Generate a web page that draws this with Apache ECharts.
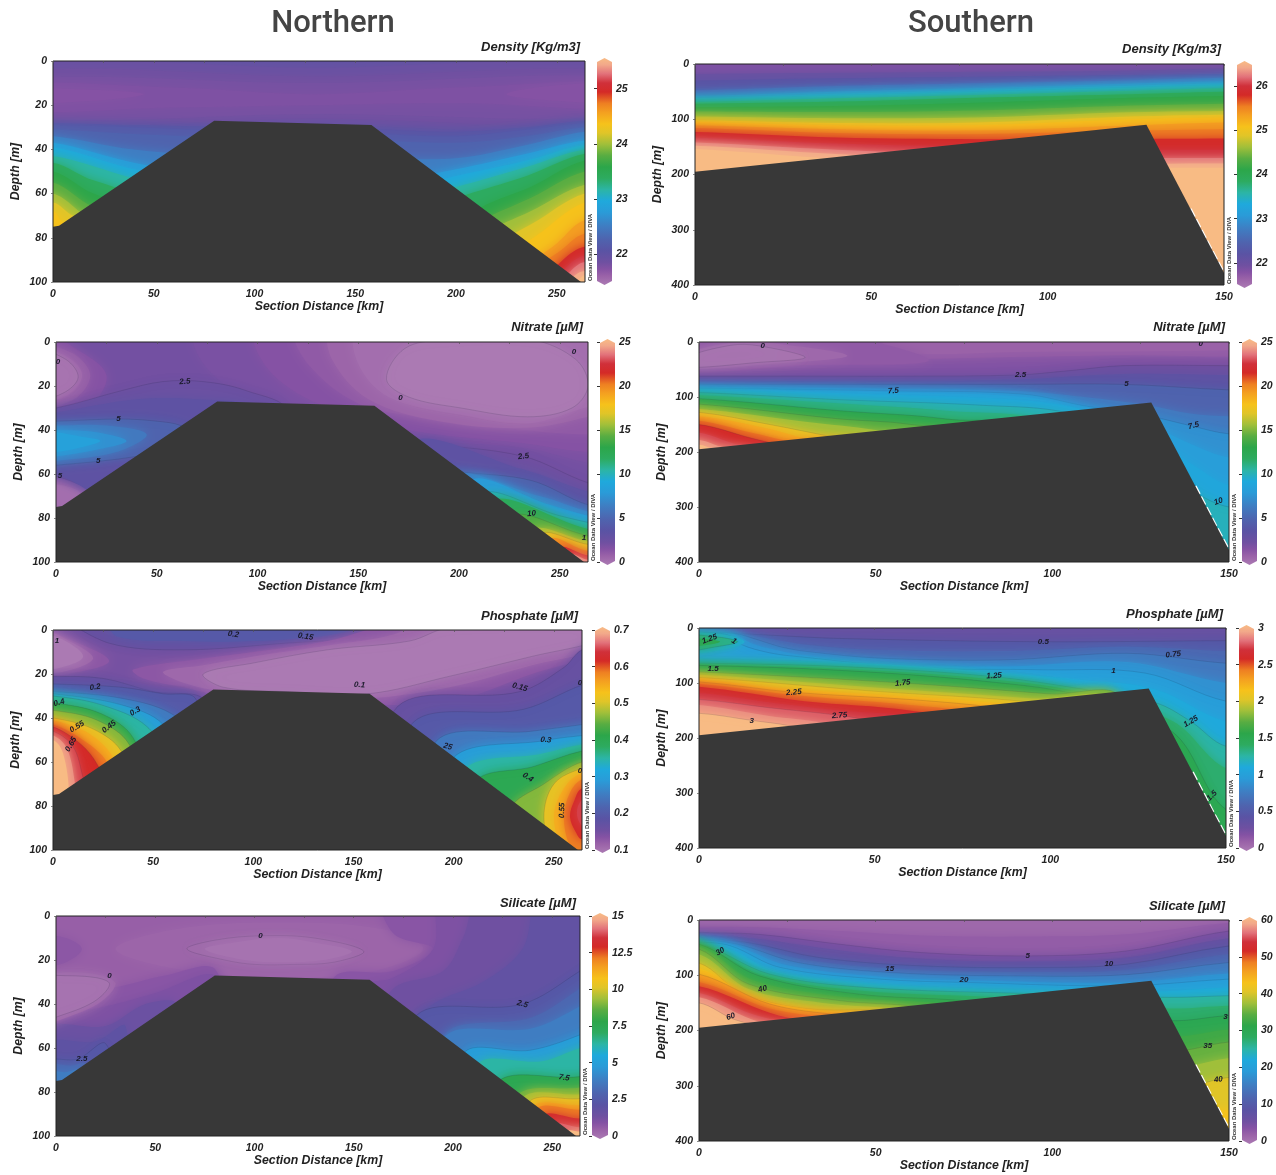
<!DOCTYPE html>
<html><head><meta charset="utf-8">
<style>html,body{margin:0;padding:0;background:#fff}#c{width:1276px;height:1175px}</style>
<script src="https://cdn.jsdelivr.net/npm/echarts@6/dist/echarts.min.js"></script>
</head><body><div id="c"></div>
<script>
// colour scale, bottom to top of the colour bar
const scaleStops = [[0,'#ab7ab3'],[.04,'#9a62a8'],[.07,'#8552a4'],[.1,'#6f50a1'],[.15,'#5a53a4'],[.2,'#4f63ae'],[.26,'#3f7dc2'],[.32,'#2a9bd8'],[.37,'#1fa9dc'],[.42,'#2cb5a5'],[.47,'#2dab60'],[.52,'#2ca64a'],[.57,'#58ad42'],[.62,'#a0bf3a'],[.67,'#e0c528'],[.71,'#f6c21b'],[.76,'#f4a020'],[.8,'#ee7f22'],[.85,'#d42a27'],[.89,'#d0303a'],[.93,'#e2717a'],[.97,'#f2a88a'],[1,'#f8bb84']];

// seabed outlines [km, m]
const seabedNorth = [[0,75],[3,74.5],[80,27],[158,29],[262,100],[0,100]];
const seabedSouth = [[0,195],[128,110],[150,378],[150,400],[0,400]];
const gapSouth = [[140.5,262],[146,330],[150,378]];

// isobands read from the sections: [level on colour scale, shape (1 = everything below this line, 0 = closed patch), [km, m, km, m ...], outline]
const densityN = [
 [.13,0,[-30,-20,300,-20,300,130,-30,130]],
 [.115,0,[-30,3,130,3,300,3,300,29,130,29,-30,29]],
 [.10,0,[-30,6,130,7,300,6,300,27,130,26,-30,27]],
 [.09,0,[-30,9,130,10,300,8,300,24,130,24,-30,25]],
 [.08,0,[-30,11,60,12,130,15,200,12,300,10,300,21,200,19,130,20,60,21,-30,22]],
 [.07,0,[-30,13,20,13,45,15,20,18,-30,19]],
 [.07,0,[225,15,250,11,300,10,300,19,250,18]],
 [.15,1,[0,28,40,29,100,30,160,31,200,32,235,30,264,27]],
 [.17,1,[0,29,40,30,100,32,160,33,200,34,235,31,264,28]],
 [.2,1,[0,31,40,33,100,35,160,36,200,37,235,34,264,30]],
 [.26,1,[0,34,40,40,100,44,160,44,200,44,235,38,264,32]],
 [.32,1,[0,37,40,46,100,55,160,55,200,49,235,42,264,36]],
 [.37,1,[0,39,40,49,100,60,160,60,200,52,235,45,264,38]],
 [.42,1,[0,43,40,53,100,65,160,65,200,57,235,48,264,40]],
 [.47,1,[0,46,20,54,100,75,160,75,200,62,235,52,264,42]],
 [.52,1,[0,50,20,60,100,85,180,85,213,66,237,57,264,45]],
 [.57,1,[0,55,20,66,100,90,180,90,213,72,237,62,264,50]],
 [.62,1,[0,60,20,72,100,95,180,95,213,78,237,68,264,56]],
 [.67,1,[0,64,10,70,100,100,180,100,237,74,264,60]],
 [.71,1,[0,68,5,73,100,105,180,105,225,88,240,79,264,64]],
 [.76,1,[0,85,100,110,200,110,248,84,264,72]],
 [.8,1,[0,90,100,115,200,115,250,87,264,78]],
 [.85,1,[0,95,100,120,220,120,253,90,264,84]],
 [.89,1,[0,100,100,125,220,125,255,93,264,88]],
 [.93,1,[0,105,100,130,220,130,257,95,264,91]],
 [.97,1,[0,110,100,135,220,135,259,97,264,95]],
 [1,1,[0,115,100,140,220,140,261,99,264,97]]
];
const densityS = [
 [.08,0,[-20,-50,170,-50,170,500,-20,500]],
 [.11,1,[0,18,40,16,80,14,120,12,150,8]],
 [.15,1,[0,30,40,26,80,23,120,20,150,18]],
 [.21,1,[0,48,40,40,80,35,120,30,150,25]],
 [.27,1,[0,58,40,50,80,44,120,36,150,31]],
 [.33,1,[0,62,40,54,80,47,120,40,150,35]],
 [.37,1,[0,65,40,57,80,50,120,43,150,38]],
 [.42,1,[0,69,40,62,80,56,120,49,150,44]],
 [.47,1,[0,72,40,68,80,61,120,55,150,50]],
 [.52,1,[0,78,40,76,80,70,120,62,150,58]],
 [.57,1,[0,86,40,87,80,84,120,76,150,72]],
 [.62,1,[0,95,40,98,80,97,120,88,150,85]],
 [.67,1,[0,102,40,107,80,106,120,96,150,92]],
 [.71,1,[0,105,40,111,80,111,120,101,150,97]],
 [.76,1,[0,111,40,118,80,120,120,112,150,106]],
 [.8,1,[0,116,40,125,80,127,120,121,150,118]],
 [.85,1,[0,123,40,133,80,136,120,136,150,135]],
 [.89,1,[0,133,40,144,80,150,120,155,150,155]],
 [.93,1,[0,142,40,155,80,165,120,170,150,170]],
 [.97,1,[0,148,40,163,80,175,120,180,150,180]],
 [1,1,[0,154,40,172,80,185,120,188,150,188]]
];
const nitrateN = [
 [.095,0,[-30,-20,300,-20,300,130,-30,130]],
 [.085,0,[70,-5,75,12,105,30,170,44,232,48,264,55,300,60,300,-5]],
 [.07,0,[100,-5,105,12,130,28,175,40,232,46,264,50,300,50,300,-5]],
 [.055,0,[120,-5,125,10,150,28,180,34,232,40,264,42,300,40,300,-5]],
 [.035,0,[137,-5,137,8,155,26,190,36,234,39,264,34,300,25,300,-5]],
 [.02,0,[150,-5,150,10,165,25,200,33,234,37,262,30,300,20,300,-5]],
 [0,0,[173,3,193,-1,236,-1,258,8,264,20,256,30,234,34,201,30,175,25,164,17],1],
 [.07,0,[-8,-5,8,2,25,15,15,30,-8,30]],
 [.05,0,[-8,3,8,5,17,15,9,26,-8,28]],
 [.03,0,[-8,4,6,7,13,15,6,24,-8,26]],
 [.01,0,[-8,5,5,8,11,16,4,23,-8,25],1],
 [.07,0,[-8,60,15,62,30,70,0,85,-8,85]],
 [.04,0,[-8,63,12,65,20,72,0,85,-8,85]],
 [.02,0,[-8,66,10,67,15,75,0,85,-8,85]],
 [.11,0,[-10,30,0,30,33,22,53,18,73,18,94,22,115,32,100,70,30,70,0,61,-10,61],1],
 [.14,0,[-10,33,0,32,40,26,70,26,100,30,110,45,40,75,0,60,-10,60]],
 [.2,0,[-10,36,0,36,32,35,50,36,62,38,75,45,40,52,0,56,-10,56],1],
 [.25,0,[-10,38,0,38,25,38,45,42,30,50,0,54,-10,54]],
 [.3,0,[-10,40,0,40,20,41,35,45,20,49,0,52,-10,52]],
 [.34,0,[-10,41,0,41,12,43,22,45,12,48,0,50,-10,50]],
 [.1,0,[170,44,183,46,232,52,264,64,300,72,300,130,170,130],1],
 [.14,0,[175,47,232,58,264,68,300,75,300,130,175,130]],
 [.2,0,[180,56,201,59,236,63,264,74,300,80,300,130,180,130],1],
 [.26,0,[195,62,240,70,264,77,300,83,300,130,195,130]],
 [.32,0,[205,64,245,74,264,79,300,85,300,130,205,130]],
 [.4,0,[210,70,250,79,264,82,300,88,300,130,210,130],1],
 [.48,0,[215,73,264,85,300,90,300,130,215,130]],
 [.56,0,[225,80,264,88,300,92,300,130,225,130],1],
 [.62,0,[235,86,264,90.5,300,93,300,130,235,130]],
 [.68,0,[240,88,264,92,300,95,300,130,240,130],1],
 [.78,0,[245,90,264,95,300,97,300,130,245,130]],
 [.86,0,[250,94,264,97,300,98,300,130,250,130]],
 [.95,0,[255,97,264,99,300,100,300,130,255,130]]
];
const nitrateS = [
 [.075,0,[-20,-50,170,-50,170,500,-20,500]],
 [.055,0,[-10,-10,170,-10,170,22,120,24,70,30,40,36,-10,48]],
 [.04,0,[52,-10,55,18,90,18,170,10,170,-10]],
 [.055,0,[-10,-10,40,-10,65,34,30,42,-10,50]],
 [.03,0,[-5,25,9,2,20,2,42,25,20,40,-5,48]],
 [.01,0,[-5,31,9,6,17,7,30,28,17,37,-5,46],1],
 [.1,1,[0,62,30,62,60,62,90,60,105,52,120,43,150,43],1],
 [.14,1,[0,70,30,70,60,70,90,68,120,58,150,60]],
 [.2,1,[0,77,30,77,60,77,90,77,120,77,150,87],1],
 [.25,1,[0,82,55,85,92,90,109,100,127,115,139,130,150,135]],
 [.3,1,[0,84,55,89,92,95,109,116,127,134,139,152,150,167],1],
 [.33,1,[0,86,55,92,92,100,109,122,127,150,139,185,150,210]],
 [.36,1,[0,87,50,95,90,105,110,125,127,170,139,220,150,260]],
 [.4,1,[0,92,40,105,80,115,105,130,127,190,140,270,150,300],1],
 [.44,1,[0,97,40,112,70,125,100,145,127,240,150,420]],
 [.5,1,[0,103,40,125,70,140,100,175],1],
 [.56,1,[0,113,40,140,60,150,80,180],1],
 [.62,1,[0,122,30,145,50,160,70,185]],
 [.68,1,[0,128,20,150,40,175,60,195],1],
 [.74,1,[0,135,20,158,30,175,50,195]],
 [.8,1,[0,143,15,165,25,180,40,200]],
 [.85,1,[0,150,15,175,25,190,35,200],1],
 [.9,1,[0,165,10,185,20,200]],
 [.95,1,[0,178,6,190,15,205]],
 [1,1,[0,187,4,195,10,210]]
];
const phosphateN = [
 [.09,0,[-30,-20,300,-20,300,130,-30,130]],
 [.12,0,[10,-5,28,6,65,9,116,6,157,3,188,-5],1],
 [.17,0,[28,-5,32,3,65,5,100,5,140,2,165,-5]],
 [.06,0,[-5,-1,5,3,28,14,8,20,-5,20]],
 [.03,0,[-5,1,8,5,20,13,5,19,-5,18]],
 [0,0,[-5,3,4,4,15,12,4,17,-5,17]],
 [.06,0,[40,18,75,13,100,10,137,5,160,-1,185,-8,280,-8,280,7,239,20,200,32,157,34,116,32,85,30,65,26,45,22]],
 [.03,0,[55,19,75,16,100,12,137,7,170,2,190,-6,280,-6,280,6,239,16,198,26,157,31,116,30,85,28,65,24]],
 [0,0,[75,20,100,15,137,9,178,5,198,-1,275,-1,275,4,239,12,198,21,157,29,116,28,85,26],1],
 [.12,0,[170,37,233,28,255,17,264,9,285,4,285,120,170,120],1],
 [.17,0,[178,44,235,36,264,25,285,20,285,120,178,120],1],
 [.25,0,[190,52,239,46,264,43,285,40,285,120,190,120],1],
 [.33,0,[198,60,247,50,264,48,285,46,285,120,198,120],1],
 [.42,0,[204,65,245,56,264,52,285,50,285,120,204,120]],
 [.5,0,[210,70,240,62,264,55,285,53,285,120,210,120],1],
 [.6,0,[228,82,245,70,264,60,285,58,285,120,228,120],1],
 [.68,0,[264,63,250,70,245,85,250,100,264,106,285,100,285,60],1],
 [.74,0,[264,65,255,72,250,85,255,100,264,104,285,100,285,63]],
 [.8,0,[264,68,258,74,255,85,258,98,264,101,285,95,285,65]],
 [.85,0,[264,72,260,78,258,85,261,92,264,95,285,90,285,70]],
 [.9,0,[266,76,262,80,262,86,266,90,285,85,285,74]],
 [.12,0,[-10,21,0,21,25,22,50,28,75,32,60,60,0,100,-10,100],1],
 [.17,0,[-10,24.5,0,24.5,34,26,55,29,71,31,70,50,0,100,-10,100],1],
 [.25,0,[-10,28,0,28,34,31,59,38,70,50,0,100,-10,100],1],
 [.33,0,[-10,29,0,29,34,34,55,43,60,60,0,100,-10,100],1],
 [.42,0,[-10,30,0,30,24,34,47,44,55,60,0,100,-10,100],1],
 [.5,0,[-10,33,0,33,24,38,40,49,45,70,0,100,-10,100],1],
 [.6,0,[-10,36.5,0,36.5,22,41,38,52,40,70,0,100,-10,100],1],
 [.68,0,[-10,40,0,40,20,45,34,55,38,72,0,100,-10,100],1],
 [.74,0,[-10,41,0,41,18,47,30,58,34,72,0,100,-10,100]],
 [.8,0,[-10,43,0,43,15,50,27,60,30,72,0,100,-10,100]],
 [.85,0,[-10,44,0,44,14,52,22,61,26,72,0,100,-10,100],1],
 [.9,0,[-10,46,0,46,10,53,15,67,18,78,0,100,-10,100],1],
 [.95,0,[-10,48,0,48,7,54,11,70,12,82,0,100,-10,100]],
 [1,0,[-10,50,0,50,5,56,8,75,6,90,-10,100]]
];
const phosphateS = [
 [.12,0,[-20,-50,170,-50,170,500,-20,500]],
 [.167,1,[0,7,20,13,40,19,98,25,150,23],1],
 [.21,1,[0,8,15,14,30,30,52,40,87,42,122,34,150,42]],
 [.25,1,[0,8,10,10,17,22,23,34,31,43,52,55,87,58,122,46,150,64],1],
 [.3,1,[0,8,10,12,15,28,22,40,28,48,52,66,87,70,122,62,150,100]],
 [.33,1,[0,9,8,12,12,30,20,45,28,52,63,73,98,76,127,82,150,133],1],
 [.38,0,[-5,12,8,13,13,25,8,38,-5,45]],
 [.44,0,[-5,15,6,17,11,25,6,33,-5,40],1],
 [.5,0,[-5,20,3,21,6,25,3,30,-5,34]],
 [.37,1,[0,58,40,62,83,80,110,95,130,112,150,170]],
 [.417,1,[0,64,40,70,83,88,110,112,130,136,140,170,150,215],1],
 [.46,1,[0,66,40,74,83,93,110,118,135,170,150,255]],
 [.5,1,[0,68,40,77,83,98,110,125,135,190,150,330],1],
 [.583,1,[0,80,58,100,100,120,120,130],1],
 [.62,1,[0,85,50,108,95,128,120,140]],
 [.667,1,[0,90,50,115,95,135,120,160],1],
 [.71,1,[0,94,27,112,60,125,90,140,120,170]],
 [.75,1,[0,98,27,117,60,130,85,145,120,180],1],
 [.8,1,[0,102,27,122,60,140,75,150,110,190]],
 [.85,1,[0,107,30,133,60,150,100,200]],
 [.89,1,[0,118,20,135,40,150,60,160,100,210]],
 [.917,1,[0,130,20,145,40,159,50,170,90,220],1],
 [.95,1,[0,140,20,160,35,172,80,230]],
 [1,1,[0,155,15,168,26,178,70,240],1]
];
const silicateN = [
 [.045,0,[-30,-20,300,-20,300,130,-30,130]],
 [.035,0,[30,15,60,6,110,3,165,6,185,15,160,25,110,28,60,24]],
 [.025,0,[66,15,80,11,103,9,130,10,155,16,140,21,120,22,100,22,85,20],1],
 [.012,0,[75,15,90,12,112,10,130,12,149,16,135,20,115,21,95,20]],
 [.06,0,[-5,10,5,10,13,15,5,21,-5,22]],
 [.065,0,[165,-10,170,8,190,15,170,25,140,28,140,60,300,60,300,-10]],
 [.08,0,[195,-10,190,15,170,28,155,32,150,50,300,60,300,-10]],
 [.1,0,[215,-10,205,10,195,25,170,33,165,50,300,70,300,-10]],
 [.13,0,[245,-10,235,15,215,30,190,40,175,55,300,80,300,-10]],
 [.167,0,[180,47,235,40,264,25,285,12,285,120,180,120],1],
 [.21,0,[195,55,240,46,264,33,285,20,285,120,195,120]],
 [.26,0,[195,56,240,51,264,41,285,30,285,120,195,120]],
 [.33,0,[205,63,239,61,264,54,285,45,285,120,205,120],1],
 [.42,0,[212,68,245,66,264,60,285,55,285,120,212,120]],
 [.5,0,[222,76,264,73,285,68,285,120,222,120],1],
 [.58,0,[232,82,264,78,285,75,285,120,232,120]],
 [.62,0,[235,83,264,81,285,78,285,120,235,120]],
 [.68,0,[238,85,264,83,285,80,285,120,238,120],1],
 [.74,0,[240,87,264,86,285,84,285,120,240,120]],
 [.8,0,[242,88,264,88,285,86,285,120,242,120]],
 [.86,0,[245,91,264,92,285,90,285,120,245,120]],
 [.92,0,[250,95,264,96,285,94,285,120,250,120]],
 [1,0,[258,98,264,98,285,97,285,120,258,120]],
 [.065,0,[-5,33,25,33,55,27,80,24,80,50,30,80,-5,80]],
 [.08,0,[-5,44,20,42,50,35,80,27,80,50,30,80,-5,80]],
 [.11,0,[-5,51,25,50,45,40,60,40,30,80,-5,80]],
 [.14,0,[-5,58,20,57,35,50,30,80,-5,80]],
 [.167,0,[-5,65,0,65,11,65,25,58,30,85,-5,85],1],
 [.21,0,[-5,68,8,68,15,67,30,85,-5,85]],
 [.26,0,[-5,71,5,71,12,70,30,85,-5,85]],
 [.03,0,[-5,30,0,26,23,27,30,31,21,40,0,48,-5,50]],
 [.012,0,[-5,27,0,27,20,28,27,31,19,39,0,46,-5,47],1]
];
const silicateS = [
 [.03,0,[-20,-50,170,-50,170,500,-20,500]],
 [.05,1,[0,12,17,13,40,20,63,28,93,30,121,26,150,5]],
 [.083,1,[0,23,17,26,40,44,63,59,93,65,121,56,150,20],1],
 [.12,1,[0,28,15,33,40,55,63,70,93,75,121,68,150,33]],
 [.167,1,[0,35,14,41,34,68,63,83,98,86,121,80,150,47],1],
 [.2,1,[0,35.5,12,42,30,72,60,90,95,94,121,90,150,62]],
 [.25,1,[0,36,11,44,28,77,54,95,86,101,121,99,150,77],1],
 [.3,1,[0,38,10,46,25,82,52,103,80,110,121,113,150,97]],
 [.33,1,[0,40,9,47,23,86,51,107,75,113,121,119,150,107],1],
 [.37,1,[0,41,10,55,21,92,48,114,85,125,125,130,150,122]],
 [.42,1,[0,43,20,98,47,122,98,134,133,140,150,137],1],
 [.46,1,[0,44,18,100,46,128,85,140,133,160,150,155]],
 [.5,1,[0,44,17,101,45,134,75,146,133,182,150,173],1],
 [.54,1,[0,48,15,108,42,140,70,152,133,210,150,198]],
 [.58,1,[0,53,14,116,40,146,63,158,133,236,150,221],1],
 [.62,1,[0,62,14,125,35,150,60,165,133,265,150,250]],
 [.67,1,[0,78,12,132,30,160,60,170,135,300,150,285],1],
 [.71,1,[0,88,15,140,35,165,60,175,135,330,150,345]],
 [.76,1,[0,98,20,152,40,172,70,190,150,395],1],
 [.8,1,[0,112,20,160,40,178,70,200,110,260]],
 [.85,1,[0,120,20,168,30,182,60,200]],
 [.9,1,[0,132,15,170,28,188,50,205]],
 [.95,1,[0,140,15,180,22,190,45,210]],
 [1,1,[0,150,10,180,20,195,40,215],1]
];

// contour labels [km, m, text, rotation]
const labelsDensityN = [], labelsDensityS = [];
const labelsNitrateN = [[1,9,'0',0],[64,18,'2.5',-5],[31,35,'5',0],[21,54,'5',0],[2,61,'5',0],[171,25.5,'0',0],[257,4.5,'0',0],[232,52,'2.5',-8],[236,78,'10',-5],[262,89,'1',0]];
const labelsNitrateS = [[18,6,'0',0],[55,89,'7.5',-4],[91,60,'2.5',0],[121,76,'5',0],[142,3,'0',0],[140,152,'7.5',-15],[147,290,'10',-20]];
const labelsPhosphateN = [[2,5,'1',0],[90,2,'0.2',8],[126,3,'0.15',10],[21,26,'0.2',-8],[3,33,'0.4',-15],[41,37,'0.3',-30],[12,44,'0.55',-32],[28,44,'0.45',-38],[9,52,'0.65',-60],[153,25,'0.1',5],[233,26,'0.15',15],[263,24,'0',0],[197,53,'25',15],[246,50,'0.3',5],[263,64,'0',0],[237,67,'0.4',35],[254,82,'0.55',-88]];
const labelsPhosphateS = [[3,20,'1.25',-20],[10,24,'1',30],[4,75,'1.5',0],[27,117,'2.25',-6],[58,100,'1.75',-6],[84,87,'1.25',-4],[118,77,'1',0],[135,48,'0.75',-6],[98,25,'0.5',0],[40,159,'2.75',-4],[15,168,'3',0],[140,170,'1.25',-30],[146,305,'1.5',-45]];
const labelsSilicateN = [[103,9,'0',0],[27,27,'0',0],[13,65,'2.5',0],[235,40,'2.5',15],[256,73.5,'7.5',10]];
const labelsSilicateS = [[6,57,'30',-30],[18,125,'40',-15],[9,175,'60',-20],[54,89,'15',0],[75,109,'20',0],[93,64,'5',0],[116,80,'10',0],[144,228,'35',0],[147,289,'40',-5],[149,175,'3',0],[130,147,'5',0]];

// colour bar tick labels
const ticksDensityN = [22,23,24,25], ticksDensityS = [22,23,24,25,26];
const ticksNitrate = [0,5,10,15,20,25], ticksPhosphateN = [.1,.2,.3,.4,.5,.6,.7];
const ticksPhosphateS = [0,.5,1,1.5,2,2.5,3], ticksSilicateN = [0,2.5,5,7.5,10,12.5,15], ticksSilicateS = [0,10,20,30,40,50,60];
const distanceN = [0,50,100,150,200,250], distanceS = [0,50,100,150];
const depthN = [0,20,40,60,80,100], depthS = [0,100,200,300,400];

const panels = [
 {t:'Density [Kg/m3]',b:densityN,l:labelsDensityN,n:1,r:[21.5,25.5],k:ticksDensityN,box:[53,61,585,282],bar:[597,612],tr:580,ty:47},
 {t:'Density [Kg/m3]',b:densityS,l:labelsDensityS,n:0,r:[21.5,26.5],k:ticksDensityS,box:[695,64,1224,285],bar:[1237,1252],tr:1221,ty:49},
 {t:'Nitrate [µM]',b:nitrateN,l:labelsNitrateN,n:1,r:[0,25],k:ticksNitrate,box:[56,342,588,562],bar:[600,615],tr:583,ty:327},
 {t:'Nitrate [µM]',b:nitrateS,l:labelsNitrateS,n:0,r:[0,25],k:ticksNitrate,box:[699,342,1229,562],bar:[1242,1257],tr:1225,ty:327},
 {t:'Phosphate [µM]',b:phosphateN,l:labelsPhosphateN,n:1,r:[.1,.7],k:ticksPhosphateN,box:[53,630,582,850],bar:[595,610],tr:578,ty:616},
 {t:'Phosphate [µM]',b:phosphateS,l:labelsPhosphateS,n:0,r:[0,3],k:ticksPhosphateS,box:[699,628,1226,848],bar:[1239,1254],tr:1223,ty:614},
 {t:'Silicate [µM]',b:silicateN,l:labelsSilicateN,n:1,r:[0,15],k:ticksSilicateN,box:[56,916,580,1136],bar:[592,608],tr:576,ty:903},
 {t:'Silicate [µM]',b:silicateS,l:labelsSilicateS,n:0,r:[0,60],k:ticksSilicateS,box:[699,920,1229,1141],bar:[1242,1257],tr:1225,ty:906}
];

const FONT = '"Liberation Sans", Arial, sans-serif';
function hex(c){return [1,3,5].map(i=>parseInt(c.substr(i,2),16));}
function colorAt(t){
  t=Math.max(0,Math.min(1,t));
  for(let i=1;i<scaleStops.length;i++){
    if(t<=scaleStops[i][0]){
      const a=scaleStops[i-1],b=scaleStops[i],f=(t-a[0])/(b[0]-a[0]);
      const A=hex(a[1]),B=hex(b[1]);
      return 'rgb('+A.map((v,j)=>Math.round(v+(B[j]-v)*f)).join(',')+')';
    }
  }
  return scaleStops[scaleStops.length-1][1];
}
function ring(b,xmax,dmax){
  const f=b[2],p=[];
  for(let i=0;i<f.length;i+=2)p.push([f[i],f[i+1]]);
  if(b[1]!==1)return p;
  const out=[[-.1*xmax,p[0][1]],...p];
  const last=p[p.length-1];
  if(last[0]>=xmax)out.push([1.1*xmax,last[1]]);
  else out.push([last[0],dmax*1.4]);
  out.push([1.15*xmax,dmax*1.4],[-.15*xmax,dmax*1.4]);
  return out;
}
const grid=[],xAxis=[],yAxis=[],series=[],title=[],graphic=[];
const headStyle={fontFamily:'Roboto, sans-serif',fontSize:31,fontWeight:500,color:'#444'};
title.push({text:'Northern',left:333,top:9,padding:0,textAlign:'center',textStyle:headStyle});
title.push({text:'Southern',left:971,top:9,padding:0,textAlign:'center',textStyle:headStyle});
const tick={fontFamily:FONT,fontSize:10.5,fontWeight:'bold',fontStyle:'italic',color:'#222'};
const nameStyle={fontFamily:FONT,fontSize:12.3,fontWeight:'bold',fontStyle:'italic',color:'#222'};
panels.forEach((p,i)=>{
  const [L,T,R,B]=p.box, xmax=p.n?264:150, dmax=p.n?100:400;
  const xs=p.n?distanceN:distanceS, ds=p.n?depthN:depthS;
  const g=i*2, cb=i*2+1;
  grid.push({left:L,top:T,width:R-L,height:B-T,show:true,z:10,backgroundColor:'transparent',borderColor:'#222',borderWidth:1,containLabel:false});
  grid.push({left:p.bar[0],top:T,width:p.bar[1]-p.bar[0],height:B-T,show:false,containLabel:false});
  const xminor=[]; xs.forEach(v=>{xminor.push(v); if(v+25<=xmax) xminor.push(v+25);});
  xAxis.push({gridIndex:g,type:'value',min:0,max:xmax,position:'bottom',z:11,name:'Section Distance [km]',nameLocation:'middle',nameGap:19,
    nameTextStyle:nameStyle,axisLine:{show:false},splitLine:{show:false},
    axisTick:{show:true,length:2,customValues:xminor,lineStyle:{color:'#555',width:.7}},
    axisLabel:Object.assign({show:true,margin:7,customValues:xs},tick)});
  yAxis.push({gridIndex:g,type:'value',inverse:true,min:0,max:dmax,position:'left',z:11,name:'Depth [m]',nameLocation:'middle',nameGap:31,nameRotate:90,
    nameTextStyle:nameStyle,axisLine:{show:false},splitLine:{show:false},
    axisTick:{show:true,length:2,customValues:ds,lineStyle:{color:'#555',width:.7}},
    axisLabel:Object.assign({show:true,margin:6,customValues:ds},tick)});
  xAxis.push({gridIndex:cb,type:'value',min:0,max:1,show:false});
  yAxis.push({gridIndex:cb,type:'value',min:p.r[0],max:p.r[1],position:'right',z:6,
    axisLine:{show:false},splitLine:{show:false},
    axisTick:{show:true,inside:true,length:3,customValues:p.k,lineStyle:{color:'#333',width:1}},
    axisLabel:Object.assign({show:true,inside:false,margin:4,customValues:p.k},tick)});
  const bands=p.b, span=p.r[1]-p.r[0];
  series.push({type:'custom',name:p.t,coordinateSystem:'cartesian2d',xAxisIndex:g,yAxisIndex:g,clip:true,silent:true,z:2,
    data:bands.map(b=>({value:[b[2][0],b[2][1],p.r[0]+b[0]*span]})),
    renderItem:(par,api)=>{
      const b=bands[par.dataIndex], c=colorAt(b[0]);
      return {type:'polygon',z2:par.dataIndex,silent:true,
        shape:{points:ring(b,xmax,dmax).map(q=>api.coord(q)),smooth:.35},
        style:{fill:c,stroke:b[3]?'rgba(25,25,60,.24)':null,lineWidth:.6,shadowBlur:par.dataIndex?11:0,shadowColor:c}};
    }});
  if(p.l.length) series.push({type:'custom',name:p.t+' labels',coordinateSystem:'cartesian2d',xAxisIndex:g,yAxisIndex:g,clip:true,silent:true,z:3,
    data:p.l.map(q=>({value:[q[0],q[1]]})),
    renderItem:(par,api)=>{
      const q=p.l[par.dataIndex], c=api.coord([q[0],q[1]]);
      return {type:'text',silent:true,x:c[0],y:c[1],rotation:-q[3]*Math.PI/180,
        style:{text:q[2],fontFamily:FONT,fontSize:8,fontWeight:'bold',fontStyle:'italic',fill:'#1a1a2a',align:'center',verticalAlign:'middle'}};
    }});
  const bed=p.n?seabedNorth:seabedSouth;
  if(!p.n) series.push({type:'line',name:'gap',xAxisIndex:g,yAxisIndex:g,z:3,silent:true,symbol:'none',clip:true,data:gapSouth,
    lineStyle:{color:'#fff',width:2.4,type:[9,3]},animation:false});
  series.push({type:'custom',name:'Seabed',coordinateSystem:'cartesian2d',xAxisIndex:g,yAxisIndex:g,clip:true,silent:true,z:4,
    data:[{value:bed[0]}],
    renderItem:(par,api)=>({type:'polygon',silent:true,shape:{points:bed.map(q=>api.coord(q))},style:{fill:'#383838'}})});
  series.push({type:'custom',name:p.t+' scale',coordinateSystem:'cartesian2d',xAxisIndex:cb,yAxisIndex:cb,clip:false,silent:true,z:2,
    data:[{value:[0,p.r[0]]}],
    renderItem:(par,api)=>{
      const a=api.coord([0,p.r[0]]),b=api.coord([1,p.r[1]]),m=(a[0]+b[0])/2;
      return {type:'polygon',silent:true,shape:{points:[[a[0],b[1]+1],[m,b[1]-3],[b[0],b[1]+1],[b[0],a[1]-1],[m,a[1]+3],[a[0],a[1]-1]]},
        style:{fill:new echarts.graphic.LinearGradient(0,1,0,0,scaleStops.map(s=>({offset:s[0],color:s[1]})))}};
    }});
  title.push({text:p.t,right:1276-p.tr,top:p.ty-6,padding:0,textStyle:{fontFamily:FONT,fontSize:13,fontWeight:'bold',fontStyle:'italic',color:'#222'}});
  graphic.push({type:'text',silent:true,x:R+5.5,y:B-1,rotation:Math.PI/2,z:20,
    style:{text:'Ocean Data View / DIVA',fontFamily:FONT,fontSize:6,fontWeight:'bold',fill:'#333',align:'left',verticalAlign:'middle'}});
});
const chart=echarts.init(document.getElementById('c'),null,{renderer:'canvas',width:1276,height:1175});
chart.setOption({animation:false,backgroundColor:'#fff',title,grid,xAxis,yAxis,series,graphic});
</script></body></html>
